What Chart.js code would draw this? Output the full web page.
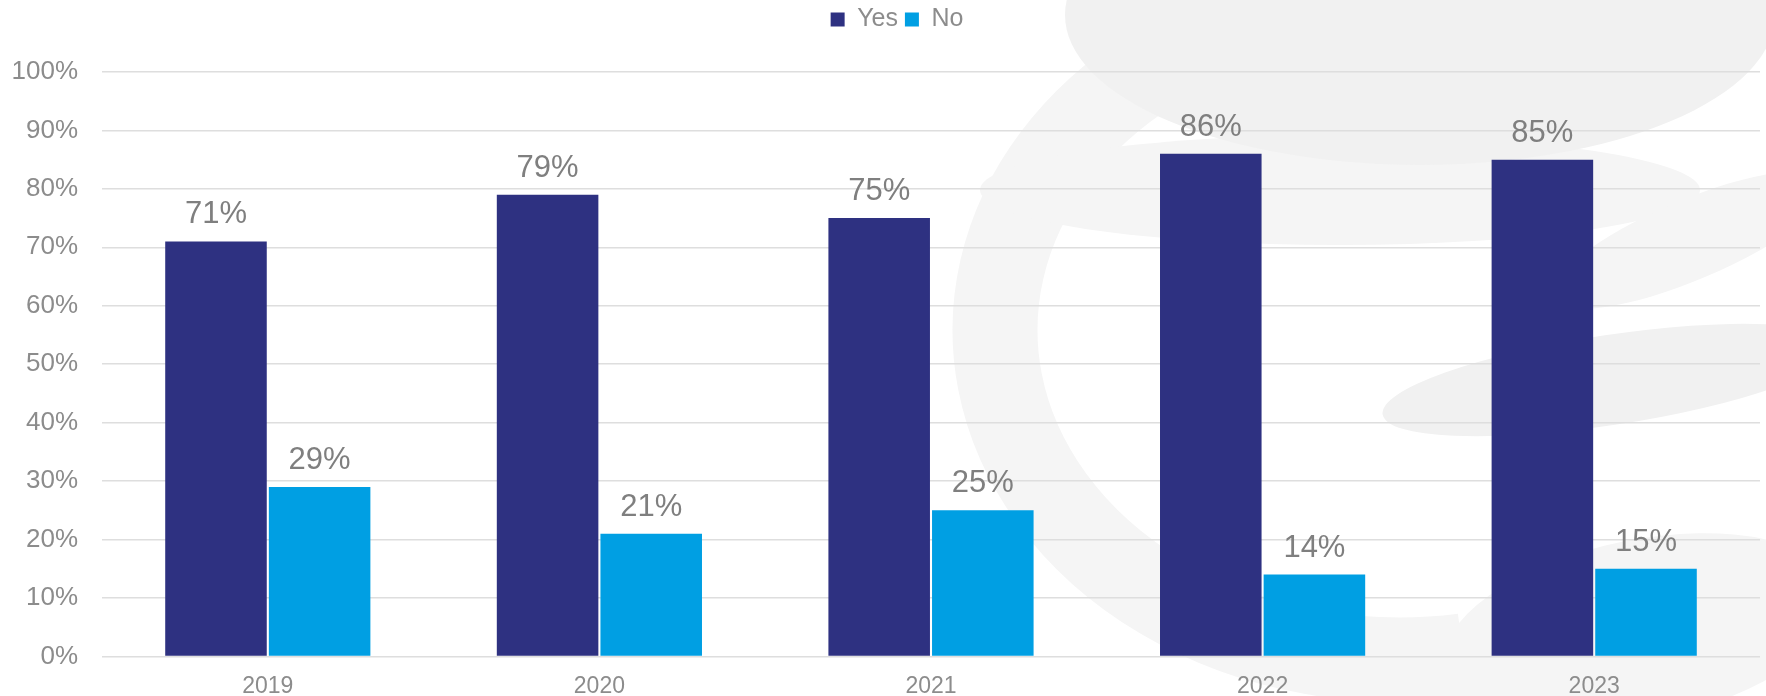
<!DOCTYPE html>
<html>
<head>
<meta charset="utf-8">
<script src="https://cdn.jsdelivr.net/npm/chart.js@4"></script>
<style>
  html, body { margin: 0; padding: 0; background: #fff; }
  #wrap { width: 1766px; height: 696px; position: relative; }
</style>
</head>
<body>
<div id="wrap"><canvas id="surveyChart"></canvas></div>
<script>
// Dữ liệu khảo sát theo năm
const years = ['2019', '2020', '2021', '2022', '2023'];
const yesValues = [71, 79, 75, 86, 85];
const noValues = [29, 21, 25, 14, 15];
const yTicks = [0, 10, 20, 30, 40, 50, 60, 70, 80, 90, 100];

const textGray = '#8c8c8c';
const labelGray = '#7f7f7f';
const fontFamily = '"Liberation Sans", Arial, sans-serif';

// Hình nền mờ phía sau biểu đồ
const watermark = {
  id: 'watermark',
  beforeDraw(chart) {
    const ctx = chart.ctx;
    const light = '#f5f5f5';
    const dark = '#f1f1f1';
    ctx.save();
    // vòng cung lớn bên trái
    ctx.strokeStyle = light;
    ctx.lineWidth = 85;
    ctx.beginPath();
    ctx.ellipse(1400, 330, 405, 330, 0, Math.PI * 0.45, Math.PI * 1.4);
    ctx.stroke();
    // dải sáng dưới khối trên
    ctx.fillStyle = light;
    ctx.beginPath();
    ctx.ellipse(1340, 190, 360, 55, 0, 0, Math.PI * 2);
    ctx.fill();
    ctx.beginPath();
    ctx.ellipse(1690, 240, 150, 40, -0.4, 0, Math.PI * 2);
    ctx.fill();
    ctx.beginPath();
    ctx.ellipse(1640, 630, 200, 90, -0.2, 0, Math.PI * 2);
    ctx.fill();
    // khối trên cùng
    ctx.fillStyle = dark;
    ctx.beginPath();
    ctx.ellipse(1420, 15, 355, 150, 0, 0, Math.PI * 2);
    ctx.fill();
    // dải giữa bên phải
    ctx.beginPath();
    ctx.ellipse(1610, 380, 230, 45, -0.15, 0, Math.PI * 2);
    ctx.fill();
    ctx.restore();
  }
};

// Nhãn giá trị trên mỗi cột
const valueLabels = {
  id: 'valueLabels',
  afterDatasetsDraw(chart) {
    const ctx = chart.ctx;
    ctx.save();
    ctx.font = '31px ' + fontFamily;
    ctx.fillStyle = labelGray;
    ctx.textAlign = 'center';
    ctx.textBaseline = 'alphabetic';
    chart.data.datasets.forEach((ds, i) => {
      chart.getDatasetMeta(i).data.forEach((bar, j) => {
        ctx.fillText(ds.data[j] + '%', bar.x, bar.y - 18);
      });
    });
    ctx.restore();
  }
};

// Chừa chỗ cho chú thích phía trên và dời nó sang phải một chút
const legendSpace = {
  id: 'legendSpace',
  beforeInit(chart) {
    const fit = chart.legend.fit;
    chart.legend.fit = function () {
      fit.bind(chart.legend)();
      this.height = 72;
    };
  },
  afterLayout(chart) {
    chart.legend.left += 17;
    chart.legend.right += 17;
  }
};

const surveyChart = new Chart(document.getElementById('surveyChart'), {
  type: 'bar',
  data: {
    labels: years,
    datasets: [
      {
        label: 'Yes',
        data: yesValues,
        backgroundColor: '#2e3181',
        categoryPercentage: 0.625,
        barPercentage: 0.98,
      },
      {
        label: 'No',
        data: noValues,
        backgroundColor: '#009fe3',
        categoryPercentage: 0.625,
        barPercentage: 0.98,
      }
    ]
  },
  options: {
    responsive: true,
    maintainAspectRatio: false,
    animation: false,
    layout: { padding: { top: 0, right: 6, bottom: 0, left: 0 } },
    plugins: {
      legend: {
        position: 'top',
        labels: {
          boxWidth: 14,
          boxHeight: 14,
          padding: 7,
          color: textGray,
          font: { family: fontFamily, size: 25 },
        }
      },
      tooltip: { enabled: false },
    },
    scales: {
      x: {
        grid: { display: false },
        border: { display: false },
        ticks: {
          color: textGray,
          padding: 8,
          font: { family: fontFamily, size: 23 },
        },
        afterFit(scale) { scale.height = 39; }
      },
      y: {
        min: 0,
        max: 100,
        afterBuildTicks(scale) { scale.ticks = yTicks.map(v => ({ value: v })); },
        grid: { color: '#dedede', lineWidth: 1.5, drawTicks: false },
        border: { display: false },
        ticks: {
          color: textGray,
          padding: 24,
          font: { family: fontFamily, size: 26 },
          callback: v => v + '%',
        },
        afterFit(scale) { scale.width = 102; }
      }
    }
  },
  plugins: [watermark, valueLabels, legendSpace]
});
</script>
</body>
</html>
